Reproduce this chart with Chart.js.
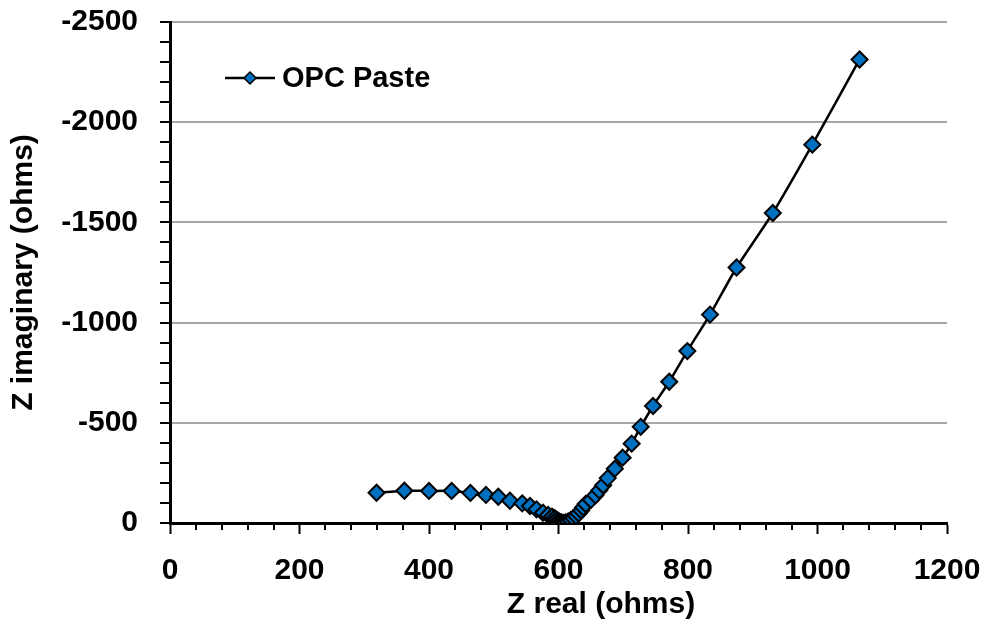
<!DOCTYPE html>
<html lang="en">
<head>
<meta charset="UTF-8">
<title>OPC Paste - Nyquist plot</title>
<script src="https://cdn.jsdelivr.net/npm/chart.js"></script>
<style>
  body { margin: 0; background: #fff; }
  #wrap { width: 989px; height: 628px; }
</style>
</head>
<body>
<div id="wrap"><canvas id="nyquist" width="989" height="628"></canvas></div>
<script>
// values
const seriesName = 'OPC Paste';
const zReal = [319, 362, 400, 435, 464, 488, 507, 525, 544, 556, 566, 576, 584, 590,
  594, 597, 600, 602, 604, 606, 608, 611, 615, 619, 623, 627, 631, 635, 638, 642,
  650, 657, 663, 669, 676, 687, 699, 713, 727, 746, 771, 799, 834, 875, 931, 992, 1065];
const zImag = [-151, -161, -160, -160, -150, -140, -131, -111, -98, -85, -68, -51, -40, -31,
  -24, -17, -11, -6, -3, -1, -1, -3, -8, -15, -24, -35, -48, -62, -78, -95,
  -115, -138, -163, -188, -224, -271, -326, -396, -480, -584, -705, -858, -1040, -1275, -1547, -1888, -2313];

const xRange = [0, 1200];
const yRange = [-2500, 0];
const xMajor = 200, xMinor = 40;
const yMajor = 500, yMinor = 100;
const xTitle = 'Z real (ohms)';
const yTitle = 'Z imaginary (ohms)';

const points = zReal.map((x, i) => ({ x: x, y: zImag[i] }));
const font = { family: "'Liberation Sans', Arial, sans-serif", weight: 'bold', size: 30 };

// small minor tick marks outside the axes
const minorTicks = {
  id: 'minorTicks',
  afterDraw(chart) {
    const ctx = chart.ctx, xs = chart.scales.x, ys = chart.scales.y;
    ctx.save();
    ctx.strokeStyle = '#000';
    ctx.lineWidth = 2;
    ctx.beginPath();
    for (let v = xs.min; v <= xs.max; v += xMinor) {
      if (v % xMajor === 0) continue;
      const px = Math.round(xs.getPixelForValue(v));
      ctx.moveTo(px, xs.top);
      ctx.lineTo(px, xs.top + 7);
    }
    for (let v = ys.min; v <= ys.max; v += yMinor) {
      if (v % yMajor === 0) continue;
      const py = Math.round(ys.getPixelForValue(v));
      ctx.moveTo(ys.right - 10, py);
      ctx.lineTo(ys.right, py);
    }
    ctx.stroke();
    ctx.restore();
  }
};

// legend sitting inside the plot (top left) + x title, which sits a bit right of centre
const insideLegend = {
  id: 'insideLegend',
  afterDraw(chart) {
    const ctx = chart.ctx, a = chart.chartArea;
    const x0 = a.left + 55, yc = a.top + 56;
    ctx.save();
    ctx.strokeStyle = '#000';
    ctx.lineWidth = 2.5;
    ctx.beginPath();
    ctx.moveTo(x0, yc);
    ctx.lineTo(x0 + 50, yc);
    ctx.stroke();
    ctx.beginPath();
    ctx.moveTo(x0 + 25, yc - 6);
    ctx.lineTo(x0 + 31, yc);
    ctx.lineTo(x0 + 25, yc + 6);
    ctx.lineTo(x0 + 19, yc);
    ctx.closePath();
    ctx.fillStyle = '#0070C0';
    ctx.fill();
    ctx.lineWidth = 1.5;
    ctx.stroke();
    ctx.fillStyle = '#000';
    ctx.font = "bold 29px 'Liberation Sans', Arial, sans-serif";
    ctx.textBaseline = 'middle';
    ctx.fillText(seriesName, x0 + 57, yc + 1);

    ctx.font = "bold 30px 'Liberation Sans', Arial, sans-serif";
    ctx.textAlign = 'center';
    ctx.fillText(xTitle, a.left + 431, 605);
    ctx.restore();
  }
};

new Chart(document.getElementById('nyquist'), {
  type: 'scatter',
  data: {
    datasets: [{
      label: seriesName,
      data: points,
      showLine: true,
      tension: 0.2,
      borderColor: '#000',
      borderWidth: 2.5,
      pointStyle: 'rectRot',
      pointRadius: 8,
      pointBackgroundColor: '#0070C0',
      pointBorderColor: '#000',
      pointBorderWidth: 2
    }]
  },
  options: {
    responsive: false,
    animation: false,
    layout: { padding: { top: 22, right: 42, left: 0, bottom: 0 } },
    plugins: { legend: { display: false }, tooltip: { enabled: false } },
    scales: {
      x: {
        type: 'linear',
        min: xRange[0], max: xRange[1],
        afterFit(s) { s.height = 105; s.paddingLeft = 0; s.paddingRight = 0; },
        border: { color: '#000', width: 3 },
        grid: { drawOnChartArea: false, tickLength: 11, tickColor: '#000', tickWidth: 2 },
        ticks: { stepSize: xMajor, color: '#000', font: font, padding: 19, maxRotation: 0, callback: v => String(v) }
      },
      y: {
        type: 'linear',
        reverse: true,
        min: yRange[0], max: yRange[1],
        afterFit(s) { s.width = 170; s.paddingTop = 0; s.paddingBottom = 0; },
        border: { color: '#000', width: 3 },
        grid: {
          color: ctx => ctx.tick && ctx.tick.value !== 0 ? '#a6a6a6' : 'rgba(0,0,0,0)',
          lineWidth: 2,
          tickLength: 10, tickColor: '#000', tickWidth: 2
        },
        ticks: { stepSize: yMajor, color: '#000', font: font, padding: 22, callback: v => String(v) },
        title: { display: true, text: yTitle, color: '#000', font: font, padding: { top: 6, bottom: 0 } }
      }
    }
  },
  plugins: [minorTicks, insideLegend]
});
</script>
</body>
</html>
